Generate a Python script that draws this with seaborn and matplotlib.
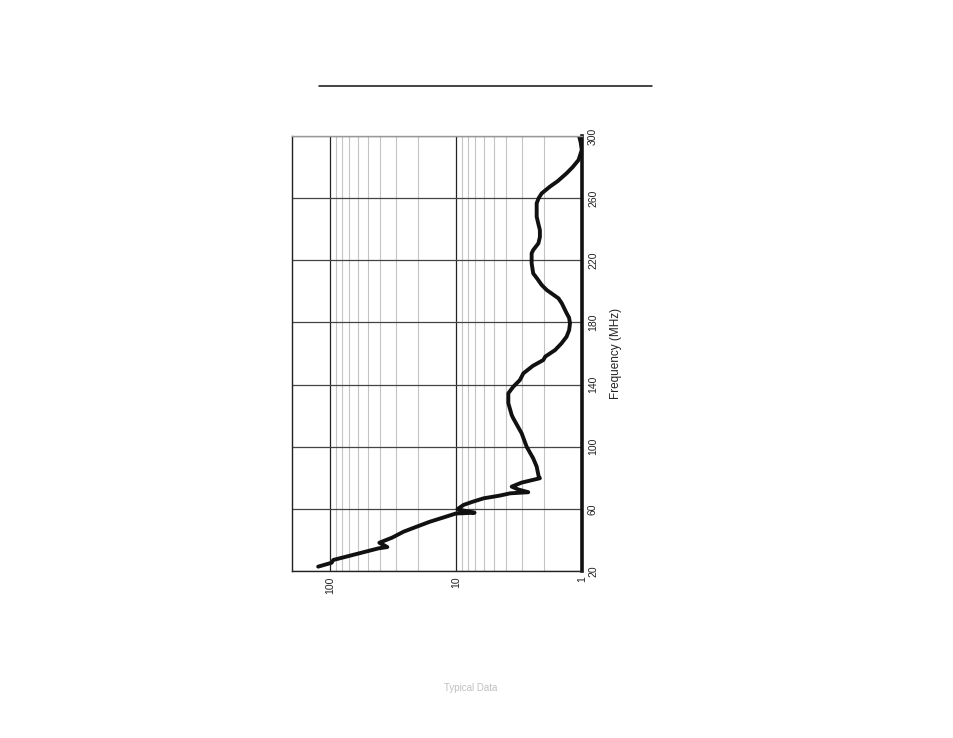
import matplotlib
matplotlib.use("Agg")
import matplotlib.pyplot as plt
from matplotlib.lines import Line2D
from matplotlib.ticker import FixedLocator, NullFormatter, LogLocator
import seaborn as sns
import pandas as pd

# frequency (MHz) and impedance
freq = [22.8, 25.3, 27.1, 34.6, 35.4, 36.5, 38.2, 41.5, 45.3, 48.5,
        51.7, 54.5, 57.0, 57.5, 59.0, 59.8, 62.5, 64.5, 66.8, 68.5,
        70.0, 70.7, 72.5, 74.3, 76.9, 79.7, 81.0, 87.2, 92.5, 100.0,
        108.6, 118.3, 120.4, 128.0, 134.4, 138.6, 142.9, 147.2, 152.0, 155.8,
        158.0, 162.2, 166.5, 170.8, 175.0, 179.4, 183.0, 186.0, 192.3, 195.5,
        200.9, 204.1, 208.0, 211.6, 218.0, 224.5, 226.6, 230.9, 235.0, 239.5,
        244.0, 248.1, 256.7, 260.0, 263.1, 267.4, 271.0, 276.0, 280.0, 284.6,
        291.0, 296.0, 300.0]
impedance = [124, 97, 94, 41, 35, 37, 40.5, 32, 26, 20.5,
             16.1, 12.5, 10.0, 7.1, 8.8, 9.7, 8.7, 7.4, 6.0, 4.5,
             3.7, 2.66, 3.2, 3.6, 3.0, 2.15, 2.2, 2.28, 2.43, 2.74,
             3.0, 3.5, 3.6, 3.83, 3.83, 3.5, 3.1, 2.91, 2.45, 2.02,
             1.95, 1.63, 1.45, 1.32, 1.26, 1.24, 1.26, 1.32, 1.44, 1.53,
             1.9, 2.08, 2.25, 2.43, 2.5, 2.5, 2.43, 2.21, 2.15, 2.15,
             2.22, 2.28, 2.28, 2.2, 2.08, 1.79, 1.55, 1.32, 1.18, 1.06,
             1.0, 1.02, 1.05]

freq_ticks = [20, 60, 100, 140, 180, 220, 260, 300]
imp_ticks = [1, 10, 100]
imp_labels = ["1", "10", "100"]

df = pd.DataFrame({"freq": freq, "imp": impedance})

sns.set_theme(style="white")
plt.rcParams['font.family'] = ['Liberation Sans', 'DejaVu Sans']

fig = plt.figure(figsize=(9.54, 7.38), dpi=100)
ax = fig.add_axes([0.3061, 0.2263, 0.3037, 0.5894])

sns.lineplot(data=df, x="imp", y="freq", sort=False, estimator=None,
             color="#111111", linewidth=2.8, ax=ax,
             solid_joinstyle="round", solid_capstyle="round")

ax.set_xscale("log")
ax.set_xlim(200, 1)
ax.set_ylim(20, 300)

ax.xaxis.set_major_locator(FixedLocator(imp_ticks))
ax.set_xticklabels(imp_labels)
ax.xaxis.set_minor_locator(LogLocator(base=10, subs=range(2, 10)))
ax.xaxis.set_minor_formatter(NullFormatter())
ax.set_yticks(freq_ticks)
ax.yaxis.tick_right()
ax.yaxis.set_label_position("right")

ax.grid(which="major", axis="x", color="#222222", linewidth=0.9)
ax.grid(which="minor", axis="x", color="#c4c4c4", linewidth=0.8)
ax.grid(which="major", axis="y", color="#444444", linewidth=0.9)

ax.tick_params(axis="x", which="both", length=0, pad=4, labelsize=7.5,
               labelrotation=90, colors="#222222")
ax.tick_params(axis="y", which="both", length=0, pad=4.5, labelsize=7.5,
               labelrotation=90, colors="#222222")
for t in ax.get_yticklabels():
    t.set_verticalalignment("center")

ax.set_xlabel("")
ax.set_ylabel("Frequency (MHz)", fontsize=8.5, rotation=90, labelpad=9,
              color="#222222")

for side in ["left", "bottom"]:
    ax.spines[side].set_color("#222222")
    ax.spines[side].set_linewidth(1.0)
ax.spines["top"].set_color("#999999")
ax.spines["top"].set_linewidth(1.0)
ax.spines["right"].set_color("#111111")
ax.spines["right"].set_linewidth(2.6)

# rule above the chart
fig.add_artist(Line2D([0.3344, 0.6831], [0.8835, 0.8835],
                      color="#111111", linewidth=1.1))
fig.text(0.4937, 1 - 688 / 738, "Typical Data", ha="center", va="center",
         fontsize=7, color="#c0c0c0")

fig.savefig("out.png", dpi=100)
